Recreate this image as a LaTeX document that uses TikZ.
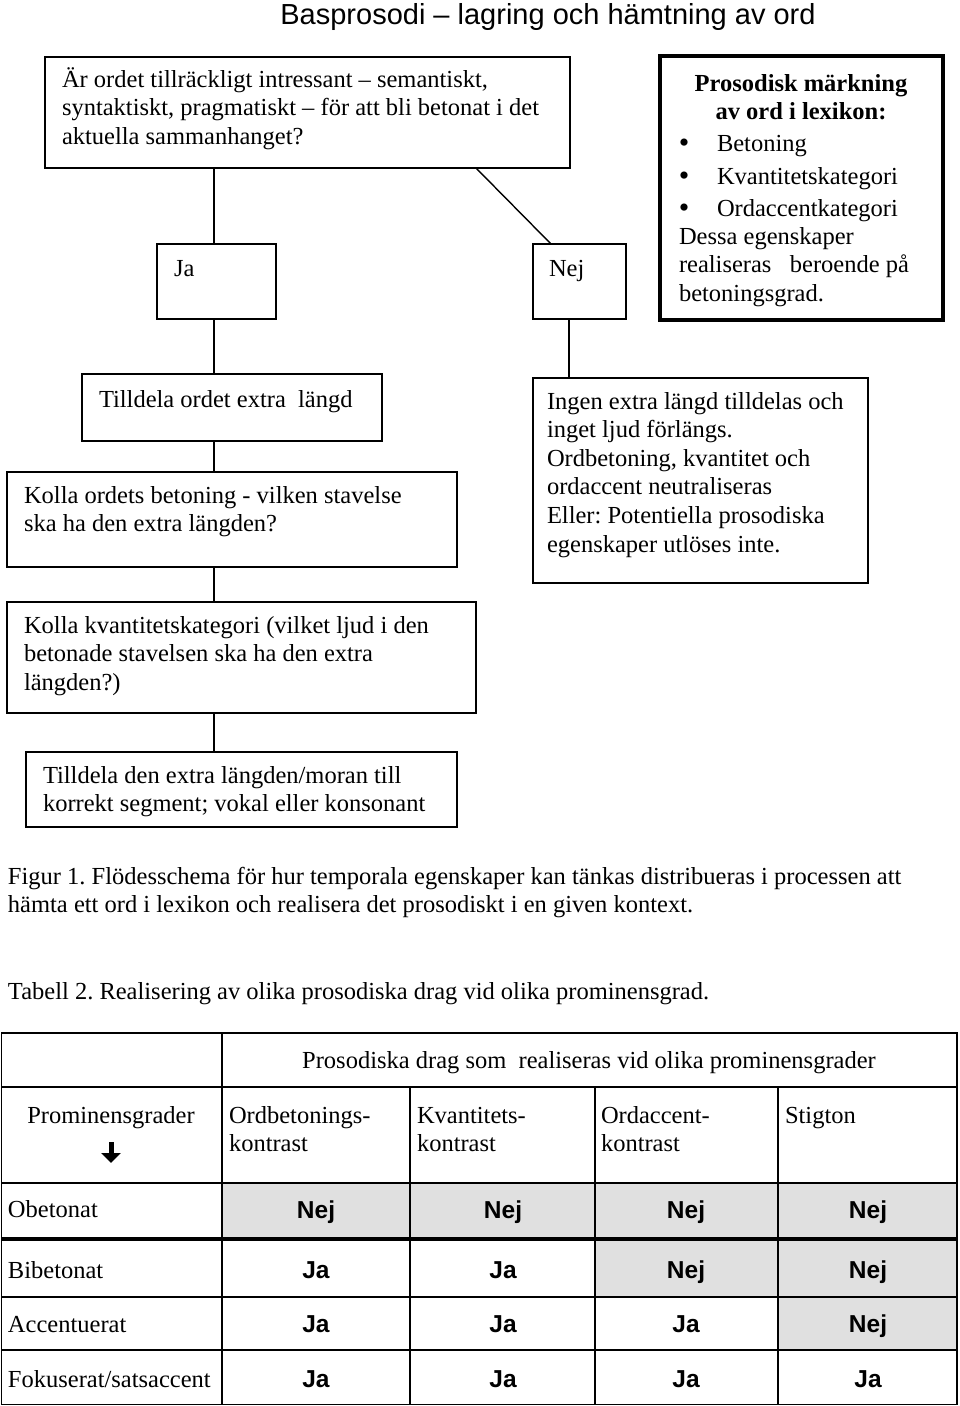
\documentclass[tikz,border=0pt]{standalone}
\usepackage{fontspec}
\setmainfont{Liberation Serif}
\newfontfamily\arialf{Liberation Sans}
\usetikzlibrary{arrows.meta}
\frenchspacing
\newcommand\fsz{\fontsize{24.5}{28.6}\selectfont}
\newcommand\mylines[1]{\parbox[t]{900pt}{\raggedright #1}}
\definecolor{tgray}{RGB}{224,224,224}
\begin{document}
\begin{tikzpicture}[x=1pt,y=-1pt,
  every node/.style={inner sep=0pt, outer sep=0pt, font=\fsz},
  boxst/.style={draw, line width=1.4pt, rectangle, anchor=north west},
  txt/.style={anchor=base west},
  bul/.style={anchor=base, font=\fontsize{30}{34}\selectfont},
  conn/.style={line width=1.4pt},
  val/.style={anchor=base, font=\fsz\arialf\bfseries},
  tline/.style={line width=1.4pt}]
\useasboundingbox (0,0) rectangle (960,1406);

% title
\node[anchor=base, font=\fontsize{29}{34}\selectfont\arialf] (title) at (548,24) {Basprosodi – lagring och hämtning av ord};

% boxes
\node[boxst, minimum width=525, minimum height=111] (b1) at (45,57) {};
\node[boxst, minimum width=119, minimum height=75] (ja) at (157,244) {};
\node[boxst, minimum width=93, minimum height=75] (nej) at (533,244) {};
\node[boxst, line width=4.2pt, minimum width=283, minimum height=264] (lex) at (660,56) {};
\node[boxst, minimum width=300, minimum height=67] (till) at (82,374) {};
\node[boxst, minimum width=450, minimum height=95] (kolla) at (7,472) {};
\node[boxst, minimum width=335, minimum height=205] (ingen) at (533,378) {};
\node[boxst, minimum width=469, minimum height=111] (kvant) at (7,602) {};
\node[boxst, minimum width=431, minimum height=75] (tden) at (26,752) {};

% connector x positions
\coordinate (trunk) at (214,0);
\coordinate (dA) at (476,0);
\coordinate (dB) at (551,0);
\coordinate (ntrunk) at (569,0);

\draw[conn] (b1.south -| trunk) -- (ja.north -| trunk);
\draw[conn] (b1.south -| dA) -- (nej.north -| dB);
\draw[conn] (ja.south -| trunk) -- (till.north -| trunk);
\draw[conn] (till.south -| trunk) -- (kolla.north -| trunk);
\draw[conn] (kolla.south -| trunk) -- (kvant.north -| trunk);
\draw[conn] (kvant.south -| trunk) -- (tden.north -| trunk);
\draw[conn] (nej.south -| ntrunk) -- (ingen.north -| ntrunk);

% box texts
\node[txt] (t1) at (62,87) {\mylines{Är ordet tillräckligt intressant – semantiskt,\\syntaktiskt, pragmatiskt – för att bli betonat i det\\aktuella sammanhanget?}};
\node[txt] (jat) at (174,276) {Ja};
\node[txt] (nejt) at (549,276) {Nej};
\node[anchor=base, font=\fsz\bfseries] (h1) at (801,91) {Prosodisk märkning};
\node[anchor=base, font=\fsz\bfseries] (h2) at (801,119) {av ord i lexikon:};
\node[bul] (bu1) at (684,152) {•};
\node[bul] (bu2) at (684,185) {•};
\node[bul] (bu3) at (684,217) {•};
\node[txt] (l1) at (717,151) {Betoning};
\node[txt] (l2) at (717,184) {Kvantitetskategori};
\node[txt] (l3) at (717,216) {Ordaccentkategori};
\node[txt] (dessa) at (679,244) {\mylines{Dessa egenskaper\\realiseras~~ beroende på\\betoningsgrad.}};
\node[txt] (t2) at (99,407) {Tilldela ordet extra~ längd};
\node[txt] (t3) at (24,503) {\mylines{Kolla ordets betoning - vilken stavelse\\ska ha den extra längden?}};
\node[txt] (t4) at (547,409) {\mylines{Ingen extra längd tilldelas och\\inget ljud förlängs.\\Ordbetoning, kvantitet och\\ordaccent neutraliseras\\Eller: Potentiella prosodiska\\egenskaper utlöses inte.}};
\node[txt] (t5) at (24,633) {\mylines{Kolla kvantitetskategori (vilket ljud i den\\betonade stavelsen ska ha den extra\\längden?)}};
\node[txt] (t6) at (43,783) {\mylines{Tilldela den extra längden/moran till\\korrekt segment; vokal eller konsonant}};

% captions
\node[txt] (fig) at (8,884) {\mylines{Figur 1. Flödesschema för hur temporala egenskaper kan tänkas distribueras i processen att\\hämta ett ord i lexikon och realisera det prosodiskt i en given kontext.}};
\node[txt] (tab) at (8,999) {Tabell 2. Realisering av olika prosodiska drag vid olika prominensgrad.};

% table shading
\fill[tgray] (222,1183) rectangle (957,1239);
\fill[tgray] (595,1239) rectangle (957,1297);
\fill[tgray] (778,1297) rectangle (957,1350);

% table lines
\draw[tline] (1.5,1033) rectangle (957,1404.5);
\draw[tline] (1.5,1087) -- (957,1087);
\draw[tline] (1.5,1183) -- (957,1183);
\draw[line width=4.5pt] (1.5,1239) -- (957,1239);
\draw[tline] (1.5,1297) -- (957,1297);
\draw[tline] (1.5,1350) -- (957,1350);
\draw[tline] (222,1033) -- (222,1404.5);
\draw[tline] (410,1087) -- (410,1404.5);
\draw[tline] (595,1087) -- (595,1404.5);
\draw[tline] (778,1087) -- (778,1404.5);

% table header texts
\node[anchor=base] (hdr) at (589,1068) {Prosodiska drag som~ realiseras vid olika prominensgrader};
\node[anchor=base] (prom) at (111,1123) {Prominensgrader};
\coordinate (arrA) at (111,1142);
\coordinate (arrB) at (111,1163);
\draw[line width=5pt, -{Triangle[width=19pt,length=10pt]}] (arrA) -- (arrB);
\node[txt] (c1) at (229,1123) {\mylines{Ordbetonings-\\kontrast}};
\node[txt] (c2) at (417,1123) {\mylines{Kvantitets-\\kontrast}};
\node[txt] (c3) at (601,1123) {\mylines{Ordaccent-\\kontrast}};
\node[txt] (c4) at (785,1123) {Stigton};

% rows
\node[txt] (r1) at (8,1217) {Obetonat};
\node[txt] (r2) at (8,1278) {Bibetonat};
\node[txt] (r3) at (8,1332) {Accentuerat};
\node[txt] (r4) at (8,1387) {Fokuserat/satsaccent};

\node[val] (v11) at (316,1218) {Nej};
\node[val] (v12) at (503,1218) {Nej};
\node[val] (v13) at (686,1218) {Nej};
\node[val] (v14) at (868,1218) {Nej};
\node[val] (v21) at (316,1278) {Ja};
\node[val] (v22) at (503,1278) {Ja};
\node[val] (v23) at (686,1278) {Nej};
\node[val] (v24) at (868,1278) {Nej};
\node[val] (v31) at (316,1332) {Ja};
\node[val] (v32) at (503,1332) {Ja};
\node[val] (v33) at (686,1332) {Ja};
\node[val] (v34) at (868,1332) {Nej};
\node[val] (v41) at (316,1387) {Ja};
\node[val] (v42) at (503,1387) {Ja};
\node[val] (v43) at (686,1387) {Ja};
\node[val] (v44) at (868,1387) {Ja};
\end{tikzpicture}
\end{document}
